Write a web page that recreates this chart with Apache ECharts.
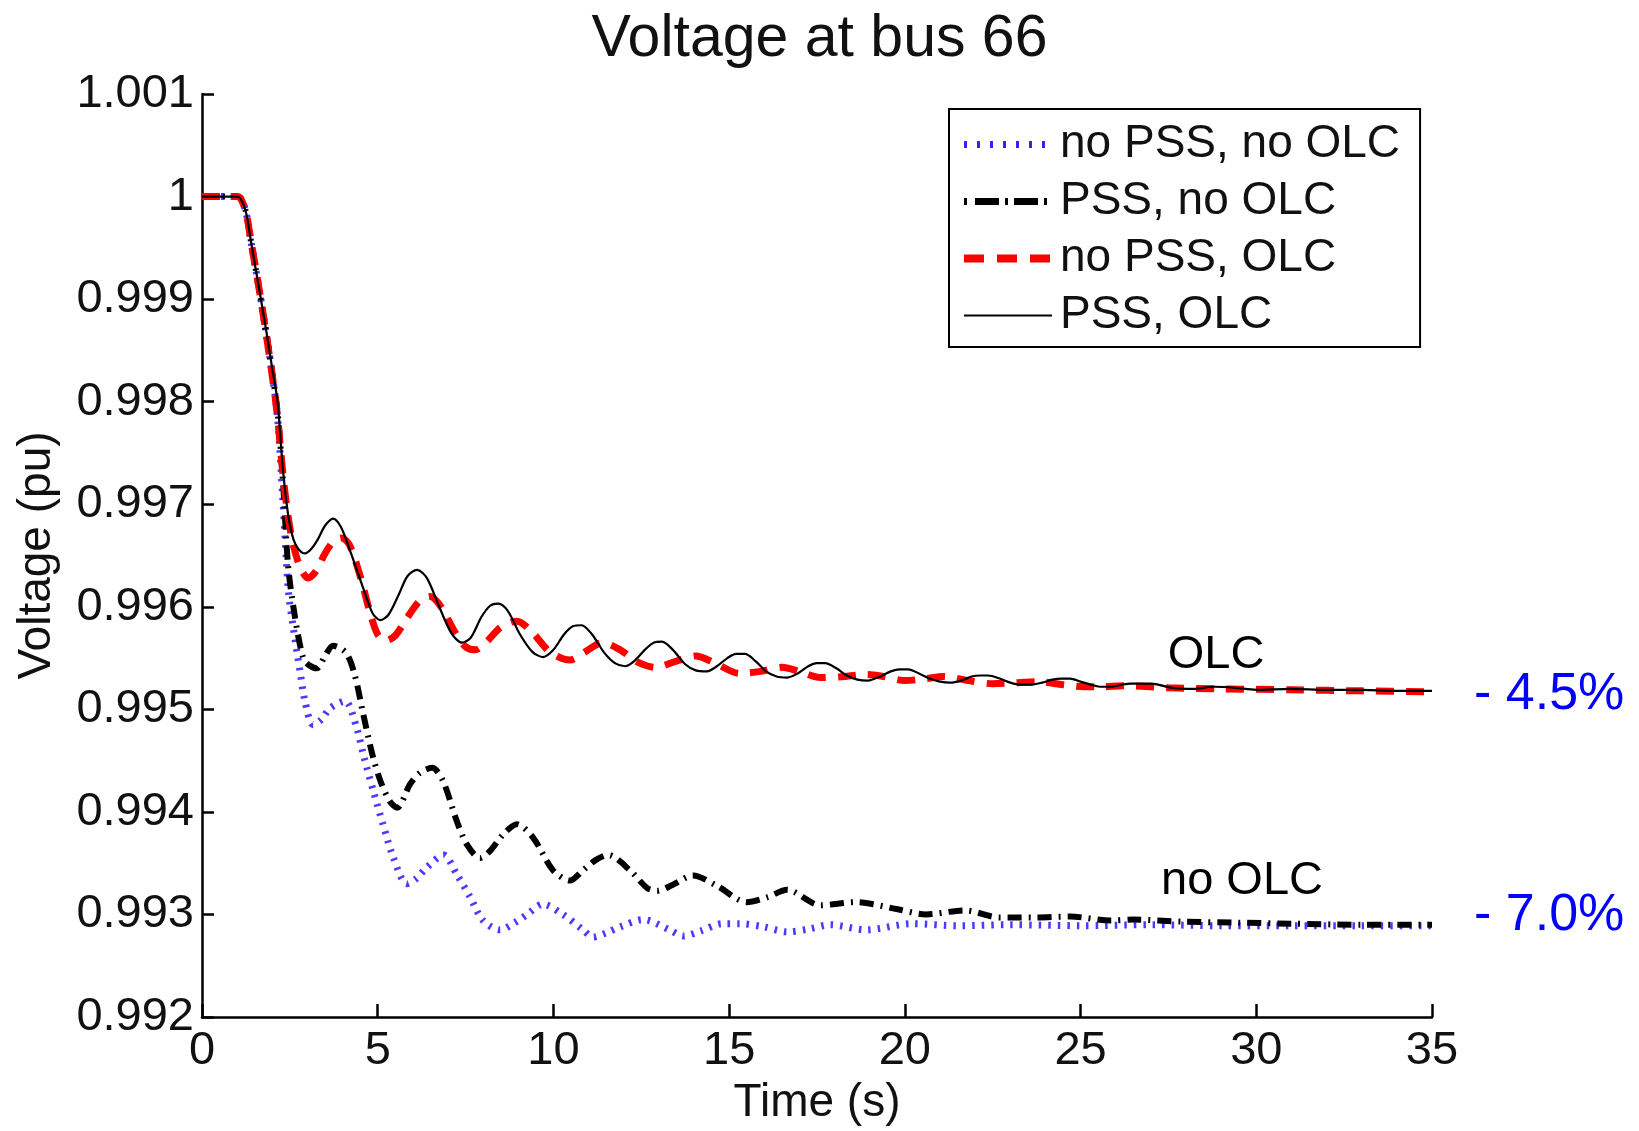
<!DOCTYPE html>
<html>
<head>
<meta charset="utf-8">
<script src="https://cdn.jsdelivr.net/npm/echarts@6/dist/echarts.min.js"></script>
<style>
html,body{margin:0;padding:0;background:#fff;}
#chart{width:1639px;height:1131px;}
</style>
</head>
<body>
<div id="chart"></div>
<script>
// ---- Data ----
const seriesNames = ['no PSS, no OLC', 'PSS, no OLC', 'no PSS, OLC', 'PSS, OLC'];
const yTickLabels = ['0.992','0.993','0.994','0.995','0.996','0.997','0.998','0.999','1','1.001'];
const xTickLabels = ['0','5','10','15','20','25','30','35'];

const tBlue = [0, 1.0, 1.1, 1.25, 1.4, 1.6, 1.8, 2.0, 2.15, 2.3, 2.46, 2.6, 2.79, 2.93, 3.16, 3.4, 3.64, 4.07, 4.4, 4.59, 4.87, 5.15, 5.44, 5.83, 6.1, 6.4, 6.87, 7.25, 7.63, 8.0, 8.48, 8.9, 9.25, 9.7, 10.27, 10.84, 11.13, 11.5, 11.9, 12.55, 13.3, 13.7, 14.2, 14.8, 15.3, 15.97, 16.65, 17.3, 17.87, 18.9, 20.2, 21.5, 23, 25, 27, 29, 31, 33, 35];
const vBlue = [1.0, 1.0, 0.99998, 0.99985, 0.99955, 0.99915, 0.99873, 0.99826, 0.99785, 0.99705, 0.99615, 0.99579, 0.99537, 0.99508, 0.99485, 0.99490, 0.99501, 0.99508, 0.99482, 0.99456, 0.99421, 0.99388, 0.99356, 0.99330, 0.99335, 0.99346, 0.99358, 0.99339, 0.99317, 0.99294, 0.99285, 0.99292, 0.99300, 0.99310, 0.99300, 0.99285, 0.99278, 0.99282, 0.99288, 0.99295, 0.99285, 0.99279, 0.99284, 0.99291, 0.99291, 0.99288, 0.99283, 0.99286, 0.99290, 0.99285, 0.99291, 0.99289, 0.99290, 0.99289, 0.99290, 0.99289, 0.99289, 0.99289, 0.99289];

const tDashDot = [0, 1.0, 1.1, 1.25, 1.4, 1.6, 1.8, 2.0, 2.15, 2.3, 2.45, 2.65, 2.88, 3.05, 3.27, 3.5, 3.73, 4.1, 4.35, 4.59, 4.87, 5.1, 5.35, 5.55, 5.92, 6.2, 6.55, 6.86, 7.25, 7.54, 7.91, 8.2, 8.57, 8.96, 9.42, 9.99, 10.47, 10.84, 11.2, 11.55, 12.18, 12.66, 12.95, 13.4, 13.97, 14.65, 15.5, 16.1, 16.65, 17.6, 18.6, 19.8, 20.6, 21.7, 22.7, 23.65, 24.7, 25.84, 26.5, 27.9, 29.5, 31, 33, 35];
const vDashDot = [1.0, 1.0, 0.99998, 0.99985, 0.99955, 0.99915, 0.99873, 0.99828, 0.99790, 0.99725, 0.99640, 0.99589, 0.99550, 0.99543, 0.99540, 0.99552, 0.99562, 0.99555, 0.99533, 0.99495, 0.99453, 0.99428, 0.99410, 0.99404, 0.99427, 0.99438, 0.99443, 0.99430, 0.99391, 0.99368, 0.99355, 0.99362, 0.99378, 0.99388, 0.99375, 0.99343, 0.99333, 0.99343, 0.99353, 0.99358, 0.99343, 0.99326, 0.99323, 0.99329, 0.99338, 0.99328, 0.99312, 0.99317, 0.99324, 0.99309, 0.99312, 0.99305, 0.99300, 0.99304, 0.99297, 0.99297, 0.99298, 0.99294, 0.99295, 0.99293, 0.99292, 0.99291, 0.99290, 0.99290];

const tRed = [0, 1.0, 1.1, 1.25, 1.4, 1.6, 1.8, 2.0, 2.15, 2.3, 2.45, 2.6, 2.8, 3.02, 3.25, 3.5, 3.75, 3.98, 4.2, 4.5, 4.8, 5.0, 5.22, 5.5, 5.85, 6.2, 6.49, 6.8, 7.2, 7.5, 7.78, 8.1, 8.5, 8.96, 9.4, 9.9, 10.47, 10.9, 11.4, 11.9, 12.4, 12.9, 13.5, 14.05, 14.6, 15.3, 15.9, 16.5, 17.0, 17.6, 18.3, 18.9, 19.4, 20.0, 20.6, 21.1, 21.8, 22.5, 23.2, 23.8, 24.5, 25.1, 25.6, 26.2, 27.5, 29, 31, 33, 35];
const vRed = [1.0, 1.0, 0.99998, 0.99985, 0.99955, 0.99915, 0.99872, 0.99825, 0.99785, 0.99730, 0.99688, 0.99660, 0.99638, 0.99628, 0.99635, 0.99652, 0.99664, 0.99667, 0.99660, 0.99630, 0.99592, 0.99573, 0.99567, 0.99572, 0.99590, 0.99606, 0.99610, 0.99600, 0.99575, 0.99561, 0.99558, 0.99566, 0.99580, 0.99586, 0.99575, 0.99556, 0.99548, 0.99556, 0.99565, 0.99558, 0.99546, 0.99541, 0.99547, 0.99552, 0.99545, 0.99535, 0.99537, 0.99541, 0.99537, 0.99531, 0.99532, 0.99534, 0.99532, 0.99528, 0.99530, 0.99532, 0.99528, 0.99525, 0.99526, 0.99527, 0.99524, 0.99522, 0.99522, 0.99523, 0.99521, 0.99520, 0.99519, 0.99518, 0.99517];

const tSolid = [0, 1.0, 1.1, 1.25, 1.4, 1.6, 1.8, 2.0, 2.15, 2.3, 2.45, 2.6, 2.75, 2.93, 3.1, 3.3, 3.5, 3.73, 3.95, 4.2, 4.6, 4.85, 5.07, 5.3, 5.6, 5.85, 6.12, 6.4, 6.75, 7.1, 7.4, 7.65, 7.95, 8.2, 8.43, 8.7, 9.05, 9.4, 9.71, 10.0, 10.3, 10.55, 10.8, 11.1, 11.45, 11.75, 12.04, 12.3, 12.6, 12.85, 13.09, 13.4, 13.75, 14.05, 14.37, 14.65, 14.95, 15.2, 15.45, 15.75, 16.05, 16.35, 16.65, 16.95, 17.25, 17.5, 17.73, 18.05, 18.35, 18.65, 18.95, 19.3, 19.6, 19.85, 20.1, 20.4, 20.7, 21.0, 21.29, 21.6, 21.9, 22.15, 22.37, 22.7, 23.0, 23.3, 23.56, 23.9, 24.2, 24.45, 24.7, 25.0, 25.3, 25.6, 25.84, 26.4, 27.0, 27.6, 28.2, 28.8, 29.4, 30.0, 31, 32, 33, 34, 35];
const vSolid = [1.0, 1.0, 0.99998, 0.99985, 0.99955, 0.99915, 0.99875, 0.99832, 0.99800, 0.99735, 0.99690, 0.99666, 0.99656, 0.99652, 0.99656, 0.99666, 0.99679, 0.99686, 0.99678, 0.99656, 0.99617, 0.99594, 0.99587, 0.99592, 0.99612, 0.99630, 0.99636, 0.99628, 0.99600, 0.99574, 0.99565, 0.99570, 0.99590, 0.99601, 0.99603, 0.99596, 0.99573, 0.99556, 0.99551, 0.99558, 0.99573, 0.99581, 0.99582, 0.99573, 0.99555, 0.99545, 0.99542, 0.99547, 0.99558, 0.99565, 0.99566, 0.99558, 0.99544, 0.99538, 0.99537, 0.99542, 0.99550, 0.99554, 0.99554, 0.99547, 0.99537, 0.99532, 0.99531, 0.99535, 0.99542, 0.99545, 0.99545, 0.99540, 0.99533, 0.99529, 0.99528, 0.99532, 0.99537, 0.99539, 0.99539, 0.99535, 0.99530, 0.99527, 0.99526, 0.99528, 0.99532, 0.99533, 0.99533, 0.99530, 0.99526, 0.99524, 0.99524, 0.99526, 0.99529, 0.99530, 0.99530, 0.99527, 0.99524, 0.99522, 0.99522, 0.99525, 0.99525, 0.99521, 0.99520, 0.99522, 0.99521, 0.99519, 0.99520, 0.99519, 0.99519, 0.99518, 0.99518];

const annotations = [
  {text: 'OLC', x: 1216, y: 655, color: '#000', align: 'center'},
  {text: 'no OLC', x: 1242, y: 881, color: '#000', align: 'center'},
  {text: '- 4.5%', x: 1474, y: 695, color: '#0000ff', align: 'left'},
  {text: '- 7.0%', x: 1474, y: 916, color: '#0000ff', align: 'left'}
];

// ---- Styles ----
const FONT = "'Liberation Sans', Arial, sans-serif";
const lineStyles = [
  {color: '#4a3aff', width: 7, type: [2.5, 7], cap: 'butt'},
  {color: '#000000', width: 6, type: [14, 7, 2, 7], cap: 'butt'},
  {color: '#ff0000', width: 7, type: [18, 12], cap: 'butt'},
  {color: '#000000', width: 2.2, type: 'solid', cap: 'butt'}
];
const legendLineStyles = [
  {color: '#3a20ff', width: 7, type: [3, 10], cap: 'butt'},
  {color: '#000000', width: 7, type: [3, 8, 24, 6, 3, 6, 24, 6], cap: 'butt'},
  {color: '#ff0000', width: 8, type: [20, 13], cap: 'butt'},
  {color: '#000000', width: 2.2, type: 'solid', cap: 'butt'}
];

// ---- Build ----
const zip = (t, v) => t.map((x, i) => [x, v[i]]);
const seriesData = [zip(tBlue, vBlue), zip(tDashDot, vDashDot), zip(tRed, vRed), zip(tSolid, vSolid)];

const chart = echarts.init(document.getElementById('chart'), null, {renderer: 'canvas'});
const option = {
  backgroundColor: '#ffffff',
  animation: false,
  title: {
    text: 'Voltage at bus 66',
    left: 'center',
    top: 10,
    padding: 0,
    textStyle: {fontFamily: FONT, fontSize: 59, fontWeight: 'normal', color: '#111'}
  },
  grid: {left: 202, right: 207, top: 94, bottom: 111, containLabel: false},
  legend: {
    orient: 'vertical',
    left: 949,
    top: 109,
    padding: [12, 20, 8, 11],
    itemWidth: 88,
    itemHeight: 14,
    itemGap: 10,
    borderColor: '#000',
    borderWidth: 2,
    backgroundColor: '#fff',
    itemStyle: {opacity: 0},
    data: seriesNames.map((n, i) => ({name: n, lineStyle: legendLineStyles[i], itemStyle: {opacity: 0}})),
    textStyle: {fontFamily: FONT, fontSize: 46, color: '#111', lineHeight: 47, padding: [0, 0, 0, 3]}
  },
  xAxis: {
    type: 'value',
    min: 0, max: 35, interval: 5,
    name: 'Time (s)',
    nameLocation: 'middle',
    nameGap: 63,
    nameTextStyle: {fontFamily: FONT, fontSize: 46, color: '#111'},
    axisLine: {show: true, onZero: false, lineStyle: {color: '#000', width: 2.5}},
    axisTick: {show: true, inside: true, length: 13, lineStyle: {color: '#000', width: 2.5}},
    axisLabel: {
      fontFamily: FONT, fontSize: 47, color: '#111', margin: 11,
      formatter: v => xTickLabels[Math.round(v / 5)] || ''
    },
    splitLine: {show: false}
  },
  yAxis: {
    type: 'value',
    min: 0.992, max: 1.001, interval: 0.001,
    name: 'Voltage (pu)',
    nameLocation: 'middle',
    nameGap: 142,
    nameRotate: 90,
    nameTextStyle: {fontFamily: FONT, fontSize: 46, color: '#111'},
    axisLine: {show: true, onZero: false, lineStyle: {color: '#000', width: 2.5}},
    axisTick: {show: true, inside: true, length: 12, lineStyle: {color: '#000', width: 2.5}},
    axisLabel: {
      fontFamily: FONT, fontSize: 47, color: '#111', margin: 8,
      formatter: v => yTickLabels[Math.round((v - 0.992) / 0.001)] || ''
    },
    splitLine: {show: false}
  },
  series: seriesNames.map((n, i) => ({
    name: n, type: 'line', data: seriesData[i],
    smooth: 0.3, symbol: 'none', showSymbol: false, z: 2 + i,
    lineStyle: lineStyles[i],
    itemStyle: {color: lineStyles[i].color}
  })),
  graphic: annotations.map(a => ({
    type: 'text',
    x: a.x, y: a.y,
    style: {
      text: a.text, fill: a.color,
      font: (a.color === '#000' ? '47px ' : '52px ') + FONT,
      textAlign: a.align, textVerticalAlign: 'middle'
    }
  }))
};
chart.setOption(option);
</script>
</body>
</html>
